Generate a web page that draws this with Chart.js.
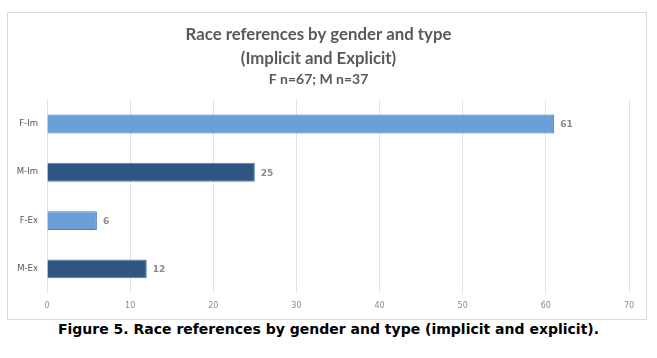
<!DOCTYPE html>
<html>
<head>
<meta charset="utf-8">
<script src="https://cdn.jsdelivr.net/npm/chart.js@4"></script>
<style>
  html, body { margin: 0; padding: 0; background: #fff; width: 657px; height: 358px; overflow: hidden; }
  #frame { position: absolute; left: 7px; top: 12px; width: 638px; height: 306px; border: 1px solid #d9d9d9; }
  #frame canvas { display: block; }
  #caption { position: absolute; left: 0; top: 321px; width: 657px; text-align: center; line-height: 16px;
    font-family: "DejaVu Sans", Verdana, sans-serif; font-weight: bold; font-size: 14px; color: #000; }
</style>
</head>
<body>
<div id="frame"><canvas id="c" width="638" height="306"></canvas></div>
<div id="caption">Figure 5. Race references by gender and type (implicit and explicit).</div>
<script>
const categories = ["F-Im", "M-Im", "F-Ex", "M-Ex"];
const counts = [61, 25, 6, 12];
const xTicks = [0, 10, 20, 30, 40, 50, 60, 70];
const titleLines = ["Race references by gender and type", "(Implicit and Explicit)"];
const subtitleText = "F n=67; M n=37";

const lightFill = "#6a9fd8", lightBorder = "#4a7ebb";
const darkFill = "#2f5582", darkBorder = "#5a7ea8";
const fills = categories.map(c => c.startsWith("F") ? lightFill : darkFill);
const borders = categories.map(c => c.startsWith("F") ? lightBorder : darkBorder);

const valueLabels = {
  id: "valueLabels",
  afterDatasetsDraw(chart) {
    const ctx = chart.ctx;
    const meta = chart.getDatasetMeta(0);
    ctx.save();
    ctx.font = "bold 9px 'DejaVu Sans', sans-serif";
    ctx.fillStyle = "#8c8c8c";
    ctx.textAlign = "left";
    ctx.textBaseline = "middle";
    meta.data.forEach((bar, i) => {
      ctx.fillText(String(counts[i]), bar.x + 6, bar.y + 1);
    });
    ctx.restore();
  }
};

new Chart(document.getElementById("c"), {
  type: "bar",
  data: {
    labels: categories,
    datasets: [{
      data: counts,
      backgroundColor: fills,
      borderColor: borders,
      borderWidth: 1,
      categoryPercentage: 1,
      barPercentage: 0.39
    }]
  },
  options: {
    indexAxis: "y",
    responsive: false,
    animation: false,
    events: [],
    layout: { padding: { left: 0, right: 17, top: 0, bottom: 0 } },
    plugins: {
      legend: { display: false },
      tooltip: { enabled: false },
      title: {
        display: true,
        text: titleLines,
        color: "#595959",
        font: { family: "Lato, 'Open Sans', sans-serif", size: 16.8, weight: "bold", lineHeight: 1.43 },
        padding: { top: 10, bottom: 0 }
      },
      subtitle: {
        display: true,
        text: subtitleText,
        color: "#595959",
        font: { family: "Lato, 'Open Sans', sans-serif", size: 14, weight: "bold", lineHeight: 1.2 },
        padding: { top: 0, bottom: 12 }
      }
    },
    scales: {
      x: {
        min: 0, max: 70,
        afterBuildTicks(scale) { scale.ticks = xTicks.map(v => ({ value: v })); },
        afterFit(scale) { scale.height = 26; },
        grid: { color: "#e3e3e3", lineWidth: 1, drawTicks: false },
        border: { display: false },
        ticks: {
          color: "#8c8c8c",
          font: { family: "'DejaVu Sans', sans-serif", size: 8 },
          padding: 8
        }
      },
      y: {
        afterFit(scale) { scale.width = 39; },
        grid: { display: false, drawTicks: false },
        border: { display: true, color: "#e3e3e3", width: 1 },
        ticks: {
          color: "#595959",
          font: { family: "'DejaVu Sans', sans-serif", size: 8.5 },
          padding: 9
        }
      }
    }
  },
  plugins: [valueLabels]
});
</script>
</body>
</html>
